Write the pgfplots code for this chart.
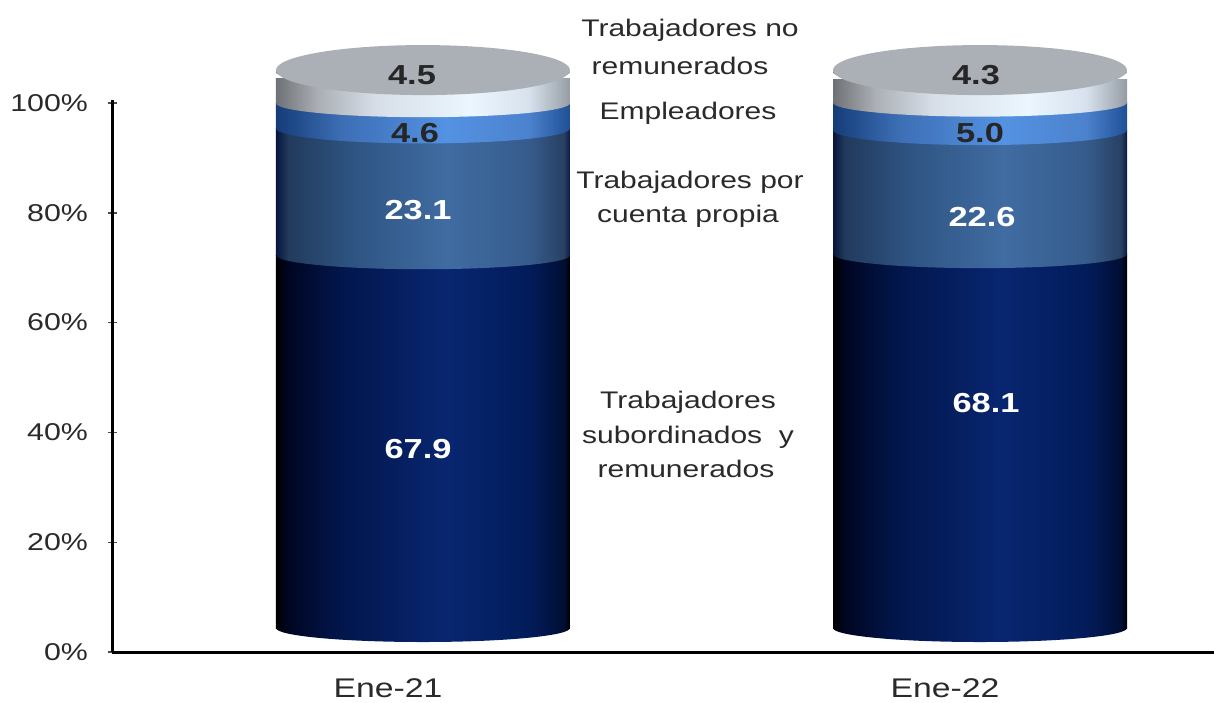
\documentclass[border=0pt]{standalone}
\usepackage{fontspec}
\setmainfont[FakeStretch=1.25]{Liberation Sans}
\usepackage{pgfplots}
\pgfplotsset{compat=1.18}
\definecolor{txt}{HTML}{2A2A2A}
\pgfdeclarehorizontalshading{cdark}{100bp}{
 color(0bp)=(black); color(25bp)=(black); color(27bp)=({rgb,255:red,0;green,6;blue,34});
 color(36bp)=({rgb,255:red,2;green,22;blue,76});
 color(54bp)=({rgb,255:red,8;green,38;blue,112});
 color(68bp)=({rgb,255:red,2;green,28;blue,90});
 color(74bp)=({rgb,255:red,1;green,14;blue,52}); color(75bp)=(black); color(100bp)=(black)}
\pgfdeclarehorizontalshading{cmid}{100bp}{
 color(0bp)=({rgb,255:red,8;green,20;blue,60}); color(25bp)=({rgb,255:red,8;green,20;blue,60});
 color(27bp)=({rgb,255:red,34;green,58;blue,92});
 color(38bp)=({rgb,255:red,46;green,84;blue,130});
 color(54bp)=({rgb,255:red,64;green,108;blue,162});
 color(68bp)=({rgb,255:red,54;green,92;blue,140});
 color(74bp)=({rgb,255:red,40;green,64;blue,98}); color(75bp)=({rgb,255:red,10;green,24;blue,64}); color(100bp)=({rgb,255:red,10;green,24;blue,64})}
\pgfdeclarehorizontalshading{cblue}{100bp}{
 color(0bp)=({rgb,255:red,20;green,60;blue,120}); color(25bp)=({rgb,255:red,20;green,60;blue,120});
 color(36bp)=({rgb,255:red,60;green,110;blue,180});
 color(54bp)=({rgb,255:red,84;green,146;blue,226});
 color(68bp)=({rgb,255:red,76;green,130;blue,205});
 color(75bp)=({rgb,255:red,30;green,80;blue,150}); color(100bp)=({rgb,255:red,30;green,80;blue,150})}
\pgfdeclarehorizontalshading{cgray}{100bp}{
 color(0bp)=({rgb,255:red,110;green,114;blue,118}); color(25bp)=({rgb,255:red,110;green,114;blue,118});
 color(32bp)=({rgb,255:red,170;green,174;blue,180});
 color(42bp)=({rgb,255:red,215;green,222;blue,232});
 color(58bp)=({rgb,255:red,235;green,246;blue,255});
 color(68bp)=({rgb,255:red,215;green,226;blue,238});
 color(75bp)=({rgb,255:red,150;green,156;blue,164}); color(100bp)=({rgb,255:red,150;green,156;blue,164})}
\pgfdeclareplotmark{capdark}{\path[draw=none,shading=cdark] (0pt,0pt) ellipse [x radius=147pt,y radius=14pt];}
\pgfdeclareplotmark{capmid}{\path[draw=none,shading=cmid] (0pt,0pt) ellipse [x radius=147pt,y radius=14pt];}
\pgfdeclareplotmark{capblue}{\path[draw=none,shading=cblue] (0pt,0pt) ellipse [x radius=147pt,y radius=15pt];}
\pgfdeclareplotmark{capgray}{\path[draw=none,shading=cgray] (0pt,0pt) ellipse [x radius=147pt,y radius=14pt];}
\pgfdeclareplotmark{capside}{\path[draw=none,shading=cgray] (0pt,0pt) ellipse [x radius=147pt,y radius=12pt];}
\pgfdeclareplotmark{captop}{\path[draw=none,fill={rgb,255:red,170;green,176;blue,182}] (0pt,0pt) ellipse [x radius=147pt,y radius=25pt];}
\pgfplotsset{common/.style={
  scale only axis, width=1102pt, height=552pt,
  at={(112pt,50pt)}, anchor=south west,
  xmin=-0.5583, xmax=1.4201, ymin=0, ymax=100.55, clip=false}}
\begin{document}
\begin{tikzpicture}[x=1pt,y=1pt]
\useasboundingbox (0,0) rectangle (1214,702);
\begin{axis}[common,
  ybar stacked, bar width=294pt,
  axis lines=left, axis line style={-,line width=3pt,black},
  xtick={0,1}, xticklabels={Ene-21,Ene-22},
  x tick label style={xshift=-35pt,yshift=-19pt,font=\fontsize{27}{27}\selectfont,text=txt},
  x tick style={draw=none},
  ytick={0,20,40,60,80,100},
  yticklabels={0\%,20\%,40\%,60\%,80\%,100\%},
  y tick label style={font=\fontsize{24.3}{24.3}\selectfont,text=txt,xshift=-16pt},
  y tick style={line width=1.4pt,black!70},
  tick align=center, major tick length=9pt,
]
\addplot[draw=none,fill=none,forget plot] coordinates {(0,4.37)};
\addplot[draw=none,shading=cdark] coordinates {(0,67.9)};
\addplot[draw=none,shading=cmid] coordinates {(0,23.1)};
\addplot[draw=none,shading=cblue] coordinates {(0,4.6)};
\addplot[draw=none,shading=cgray] coordinates {(0,4.5)};
\end{axis}
\begin{axis}[common, hide axis, ybar stacked, bar width=294pt]
\addplot[draw=none,fill=none,forget plot] coordinates {(1,4.37)};
\addplot[draw=none,shading=cdark] coordinates {(1,68.1)};
\addplot[draw=none,shading=cmid] coordinates {(1,22.6)};
\addplot[draw=none,shading=cblue] coordinates {(1,5.0)};
\addplot[draw=none,shading=cgray] coordinates {(1,4.3)};
\end{axis}
\begin{axis}[common, hide axis]
\addplot[only marks,mark=capdark] coordinates {(0,4.37) (1,4.37)};
\addplot[only marks,mark=capmid] coordinates {(0,72.27) (1,72.47)};
\addplot[only marks,mark=capblue] coordinates {(0,95.37) (1,95.07)};
\addplot[only marks,mark=capgray] coordinates {(0,99.97) (1,100.07)};
\addplot[only marks,mark=capside] coordinates {(0,105.6) (1,105.6)};
\addplot[only marks,mark=captop] coordinates {(0,106) (1,106)};
\end{axis}
% value labels
\begin{scope}[every node/.style={font=\fontsize{27.5}{27.5}\selectfont\bfseries,inner sep=0pt}]
\node[text=black!85] at (412,702-75) {4.5};
\node[text=black!85] at (415,702-133) {4.6};
\node[text=white] at (418,702-210) {23.1};
\node[text=white] at (418,702-449) {67.9};
\node[text=black!85] at (976,702-75) {4.3};
\node[text=black!85] at (980,702-133) {5.0};
\node[text=white] at (982,702-217) {22.6};
\node[text=white] at (986,702-403) {68.1};
\end{scope}
% series names
\begin{scope}[every node/.style={font=\fontsize{24}{24}\selectfont,inner sep=0pt,text=txt}]
\node at (690,702-30) {Trabajadores no};
\node at (680,702-66) {remunerados};
\node at (688,702-113) {Empleadores};
\node at (690,702-182) {Trabajadores por};
\node at (688,702-216) {cuenta propia};
\node at (688,702-402) {Trabajadores};
\node at (688,702-437) {subordinados~~y};
\node at (686,702-469) {remunerados};
\end{scope}
\end{tikzpicture}
\end{document}
